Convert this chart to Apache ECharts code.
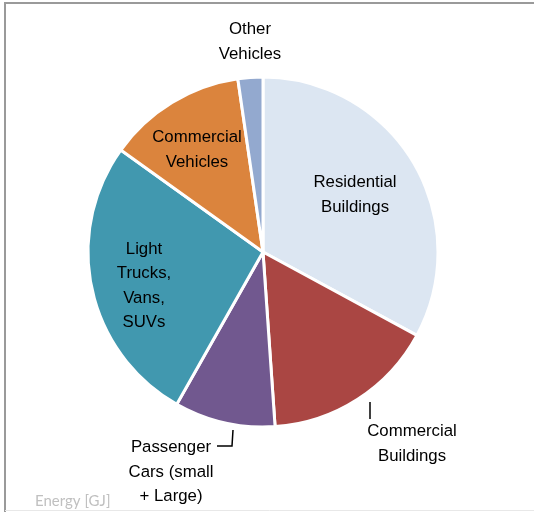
<!DOCTYPE html>
<html>
<head>
<meta charset="utf-8">
<script src="https://cdn.jsdelivr.net/npm/echarts@6/dist/echarts.min.js"></script>
<style>html,body{margin:0;padding:0;background:#fff}#c{width:534px;height:512px}</style>
</head>
<body>
<div id="c"></div>
<script>
// Data
const categories = ['Residential\nBuildings', 'Commercial\nBuildings', 'Passenger\nCars (small\n+ Large)', 'Light\nTrucks,\nVans,\nSUVs', 'Commercial\nVehicles', 'Other\nVehicles'];
const values = [32.9, 16.0, 9.3, 26.7, 12.8, 2.3];
const footerText = 'Energy [GJ]';

// Styles
const colors = ['#dce6f2', '#aa4643', '#71588f', '#4198af', '#db843d', '#93a9cf'];
const labelPos = [[355, 195], [412, 444], [171, 472], [144, 286], [197, 150], [250, 42]];
const leaderLines = [null, [[370, 402], [370, 410], [370, 419]], [[233, 430], [232, 446], [217, 446]], null, null, null];

const chart = echarts.init(document.getElementById('c'), null, {renderer: 'canvas'});
const font = "'Liberation Sans', Arial, sans-serif";

chart.setOption({
  animation: false,
  backgroundColor: '#fff',
  graphic: [
    {type: 'polyline', shape: {points: [[5, 512], [5, 3], [534, 3]]}, style: {stroke: '#9a9a9a', lineWidth: 2, fill: null}},
    {type: 'line', shape: {x1: 5, y1: 510.5, x2: 534, y2: 510.5}, style: {stroke: '#e8e8e8', lineWidth: 1}},
    {type: 'text', left: 35, top: 494, style: {text: footerText, fill: '#c0c0c0', font: "15px Lato, 'Open Sans', sans-serif"}}
  ],
  series: [{
    type: 'pie',
    center: [263, 252],
    radius: 175,
    startAngle: 90,
    clockwise: true,
    avoidLabelOverlap: false,
    itemStyle: {borderColor: '#fff', borderWidth: 3},
    label: {
      show: true,
      position: 'outside',
      color: '#000',
      fontFamily: font,
      fontSize: 16.8,
      lineHeight: 24.5,
      align: 'center'
    },
    labelLine: {show: true, lineStyle: {color: '#000', width: 1.5}},
    labelLayout: function (params) {
      const i = params.dataIndex;
      const o = {x: labelPos[i][0], y: labelPos[i][1], align: 'center', verticalAlign: 'middle'};
      if (leaderLines[i]) o.labelLinePoints = leaderLines[i];
      return o;
    },
    data: categories.map((c, i) => ({
      name: c,
      value: values[i],
      itemStyle: {color: colors[i]},
      labelLine: {show: !!leaderLines[i]}
    }))
  }]
});
</script>
</body>
</html>
